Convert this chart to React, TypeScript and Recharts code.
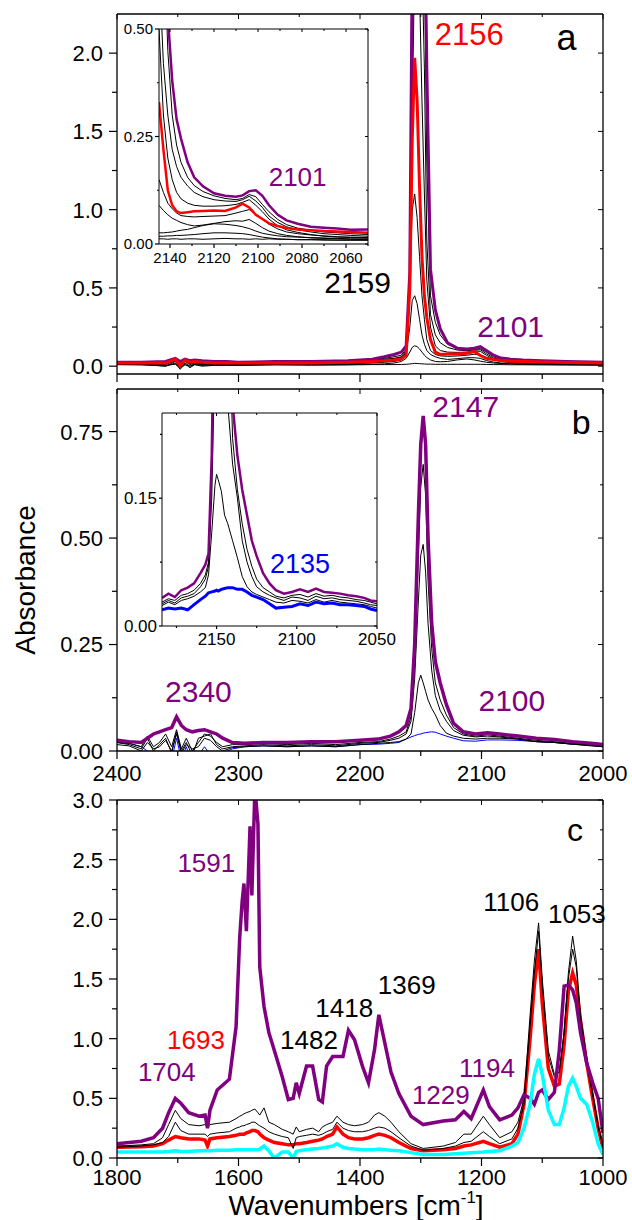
import React from "react";
import { LineChart, Line, XAxis, YAxis, CartesianGrid, ReferenceDot } from "recharts";

const FONT = "'Liberation Sans', Arial, Helvetica, sans-serif";
const PURPLE = "#800080";
const RED = "#ff0000";
const BLUE = "#0000ff";
const CYAN = "#00ffff";

// ---------- panel a (main) ----------
const wnA = [2400, 2380, 2360, 2352, 2348, 2344, 2340, 2336, 2330, 2320, 2310, 2300, 2270, 2240, 2210, 2190, 2180, 2172, 2166, 2162, 2159, 2157, 2155, 2153, 2151, 2149, 2147, 2145, 2142, 2138, 2134, 2128, 2120, 2112, 2106, 2101, 2096, 2090, 2084, 2076, 2066, 2050, 2030, 2000];
const aPurple = [0.025, 0.025, 0.03, 0.05, 0.03, 0.045, 0.035, 0.04, 0.035, 0.03, 0.03, 0.025, 0.03, 0.03, 0.035, 0.045, 0.06, 0.075, 0.09, 0.13, 0.6, 2.6, 3.8, 4.2, 4.0, 3.6, 3.0, 1.9, 0.62, 0.36, 0.24, 0.15, 0.115, 0.11, 0.115, 0.125, 0.1, 0.07, 0.052, 0.045, 0.04, 0.035, 0.03, 0.025];
const aRed = [0.02, 0.02, 0.02, 0.045, 0.0, 0.04, 0.025, 0.03, 0.025, 0.02, 0.02, 0.02, 0.02, 0.02, 0.025, 0.03, 0.035, 0.04, 0.045, 0.07, 0.5, 1.45, 1.97, 1.7, 1.15, 0.7, 0.45, 0.31, 0.17, 0.09, 0.075, 0.077, 0.078, 0.083, 0.094, 0.068, 0.05, 0.042, 0.036, 0.032, 0.03, 0.026, 0.024, 0.02];
const aK1 = [0.01, 0.008, 0.005, 0.012, -0.01, 0.008, 0.0, 0.01, 0.005, 0.008, 0.006, 0.006, 0.008, 0.006, 0.008, 0.01, 0.01, 0.01, 0.011, 0.012, 0.014, 0.016, 0.018, 0.017, 0.016, 0.015, 0.014, 0.013, 0.013, 0.012, 0.012, 0.012, 0.012, 0.012, 0.012, 0.012, 0.011, 0.01, 0.01, 0.009, 0.009, 0.008, 0.007, 0.006];
const aK2 = [0.01, 0.01, 0.0, 0.02, -0.02, 0.015, -0.01, 0.01, 0.0, 0.005, 0.005, 0.005, 0.01, 0.01, 0.01, 0.012, 0.015, 0.02, 0.03, 0.05, 0.09, 0.12, 0.13, 0.125, 0.11, 0.09, 0.07, 0.055, 0.04, 0.03, 0.028, 0.03, 0.04, 0.046, 0.04, 0.032, 0.025, 0.02, 0.017, 0.015, 0.012, 0.011, 0.01, 0.008];
const aK3 = [0.012, 0.015, 0.0, 0.03, -0.01, 0.02, 0.0, 0.015, 0.01, 0.01, 0.01, 0.01, 0.012, 0.012, 0.015, 0.02, 0.025, 0.03, 0.04, 0.08, 0.25, 0.42, 0.45, 0.4, 0.3, 0.2, 0.14, 0.1, 0.075, 0.06, 0.05, 0.043, 0.048, 0.054, 0.054, 0.05, 0.036, 0.026, 0.02, 0.016, 0.013, 0.011, 0.011, 0.01];
const aK4 = [0.015, 0.015, 0.01, 0.035, -0.005, 0.03, 0.01, 0.02, 0.015, 0.015, 0.012, 0.012, 0.015, 0.015, 0.02, 0.025, 0.03, 0.035, 0.045, 0.09, 0.55, 1.0, 1.1, 0.95, 0.7, 0.45, 0.3, 0.17, 0.1, 0.075, 0.066, 0.063, 0.065, 0.07, 0.076, 0.072, 0.055, 0.04, 0.03, 0.023, 0.019, 0.016, 0.014, 0.012];
const aK5 = [0.018, 0.02, 0.015, 0.04, 0.0, 0.035, 0.015, 0.025, 0.02, 0.02, 0.018, 0.018, 0.02, 0.02, 0.025, 0.03, 0.04, 0.045, 0.055, 0.09, 0.45, 1.6, 2.6, 2.8, 2.4, 1.7, 1.1, 0.55, 0.25, 0.13, 0.1, 0.09, 0.088, 0.09, 0.097, 0.095, 0.07, 0.045, 0.033, 0.024, 0.018, 0.015, 0.014, 0.012];
const aK6 = [0.02, 0.02, 0.02, 0.045, 0.005, 0.04, 0.02, 0.03, 0.02, 0.02, 0.02, 0.02, 0.022, 0.025, 0.028, 0.032, 0.045, 0.05, 0.06, 0.1, 0.5, 2.0, 3.2, 3.5, 3.2, 2.6, 1.9, 0.8, 0.33, 0.2, 0.15, 0.12, 0.103, 0.099, 0.103, 0.105, 0.08, 0.052, 0.04, 0.03, 0.024, 0.018, 0.016, 0.014];
const aK7 = [0.022, 0.022, 0.025, 0.05, 0.01, 0.045, 0.025, 0.035, 0.025, 0.025, 0.022, 0.022, 0.025, 0.028, 0.03, 0.035, 0.05, 0.06, 0.07, 0.11, 0.55, 2.3, 3.6, 4.0, 3.8, 3.3, 2.6, 1.3, 0.45, 0.28, 0.2, 0.14, 0.112, 0.104, 0.108, 0.112, 0.09, 0.06, 0.045, 0.034, 0.026, 0.022, 0.02, 0.016];

// ---------- panel a (inset) ----------
const wnIA = [2145, 2143, 2141, 2139, 2137, 2135, 2132, 2129, 2125, 2120, 2115, 2110, 2107, 2104, 2101, 2098, 2095, 2091, 2087, 2082, 2076, 2070, 2064, 2058, 2050];
const iaPurple = [0.9, 0.7, 0.53, 0.38, 0.29, 0.245, 0.19, 0.155, 0.134, 0.118, 0.112, 0.11, 0.113, 0.123, 0.125, 0.112, 0.09, 0.068, 0.055, 0.047, 0.04, 0.038, 0.036, 0.033, 0.034];
const iaRed = [0.33, 0.22, 0.125, 0.09, 0.076, 0.072, 0.074, 0.076, 0.077, 0.078, 0.077, 0.085, 0.094, 0.085, 0.068, 0.058, 0.048, 0.042, 0.037, 0.034, 0.032, 0.03, 0.029, 0.028, 0.026];
const iaK7 = [1.0, 0.75, 0.45, 0.3, 0.23, 0.19, 0.155, 0.136, 0.122, 0.112, 0.106, 0.103, 0.106, 0.115, 0.11, 0.092, 0.075, 0.057, 0.045, 0.037, 0.032, 0.028, 0.026, 0.024, 0.022];
const iaK6 = [0.65, 0.42, 0.3, 0.22, 0.18, 0.155, 0.135, 0.12, 0.11, 0.103, 0.1, 0.099, 0.103, 0.111, 0.1, 0.085, 0.065, 0.05, 0.04, 0.033, 0.028, 0.024, 0.022, 0.02, 0.018];
const iaK5 = [0.5, 0.3, 0.2, 0.15, 0.12, 0.105, 0.095, 0.09, 0.088, 0.088, 0.089, 0.092, 0.097, 0.103, 0.09, 0.075, 0.058, 0.042, 0.033, 0.027, 0.022, 0.018, 0.016, 0.015, 0.014];
const iaK4 = [0.15, 0.12, 0.095, 0.082, 0.072, 0.066, 0.064, 0.063, 0.064, 0.065, 0.066, 0.072, 0.076, 0.08, 0.07, 0.058, 0.046, 0.035, 0.028, 0.024, 0.021, 0.019, 0.017, 0.016, 0.015];
const iaK3 = [0.09, 0.078, 0.068, 0.06, 0.055, 0.05, 0.045, 0.042, 0.044, 0.048, 0.052, 0.054, 0.053, 0.057, 0.048, 0.038, 0.03, 0.024, 0.02, 0.017, 0.014, 0.013, 0.012, 0.011, 0.01];
const iaK2 = [0.026, 0.026, 0.027, 0.028, 0.03, 0.032, 0.034, 0.038, 0.043, 0.047, 0.046, 0.043, 0.04, 0.036, 0.03, 0.025, 0.022, 0.019, 0.017, 0.016, 0.015, 0.014, 0.013, 0.012, 0.012];
const iaK1 = [0.018, 0.018, 0.019, 0.019, 0.02, 0.02, 0.021, 0.022, 0.024, 0.026, 0.026, 0.025, 0.024, 0.022, 0.019, 0.016, 0.014, 0.012, 0.011, 0.01, 0.01, 0.009, 0.009, 0.009, 0.009];
const iaK0 = [0.012, 0.012, 0.011, 0.012, 0.012, 0.011, 0.012, 0.012, 0.011, 0.012, 0.013, 0.012, 0.012, 0.011, 0.012, 0.011, 0.012, 0.011, 0.011, 0.01, 0.01, 0.01, 0.009, 0.009, 0.009];

// ---------- panel b (main) ----------
const wnB = [2400, 2390, 2380, 2375, 2370, 2365, 2360, 2355, 2351, 2347, 2343, 2338, 2333, 2328, 2323, 2318, 2313, 2305, 2295, 2280, 2260, 2240, 2220, 2200, 2185, 2175, 2168, 2162, 2158, 2155, 2152, 2150, 2148, 2146, 2144, 2141, 2138, 2134, 2129, 2123, 2115, 2105, 2095, 2085, 2070, 2055, 2040, 2025, 2010, 2000];
const bPurple = [0.025, 0.022, 0.02, 0.03, 0.04, 0.045, 0.05, 0.055, 0.08, 0.06, 0.05, 0.045, 0.048, 0.05, 0.045, 0.04, 0.03, 0.02, 0.018, 0.02, 0.02, 0.022, 0.022, 0.025, 0.028, 0.035, 0.045, 0.06, 0.1, 0.25, 0.55, 0.72, 0.787, 0.72, 0.5, 0.3, 0.21, 0.16, 0.11, 0.065, 0.045, 0.04, 0.043, 0.04, 0.035, 0.03, 0.027, 0.022, 0.018, 0.015];
const bK3 = [0.02, 0.018, 0.01, 0.035, 0.01, 0.02, 0.04, 0.01, 0.05, 0.005, 0.03, 0.0, 0.02, 0.04, 0.035, 0.02, 0.01, 0.015, 0.015, 0.018, 0.015, 0.018, 0.015, 0.02, 0.022, 0.028, 0.035, 0.045, 0.08, 0.2, 0.45, 0.62, 0.673, 0.6, 0.4, 0.24, 0.16, 0.12, 0.085, 0.055, 0.04, 0.035, 0.038, 0.035, 0.03, 0.025, 0.022, 0.018, 0.015, 0.012];
const bK2 = [0.02, 0.015, 0.005, 0.03, 0.0, 0.015, 0.03, -0.005, 0.045, 0.0, 0.02, -0.01, 0.03, 0.035, 0.04, 0.015, 0.005, 0.01, 0.012, 0.015, 0.012, 0.015, 0.012, 0.018, 0.02, 0.025, 0.03, 0.04, 0.07, 0.17, 0.35, 0.46, 0.485, 0.42, 0.3, 0.19, 0.13, 0.095, 0.07, 0.048, 0.037, 0.033, 0.035, 0.033, 0.028, 0.022, 0.02, 0.016, 0.013, 0.01];
const bK1 = [0.015, 0.012, 0.0, 0.02, 0.005, 0.01, 0.025, 0.0, 0.04, -0.005, 0.015, 0.005, 0.01, 0.03, 0.025, 0.01, 0.0, 0.008, 0.01, 0.012, 0.01, 0.012, 0.01, 0.015, 0.018, 0.02, 0.022, 0.028, 0.04, 0.09, 0.16, 0.178, 0.16, 0.14, 0.12, 0.1, 0.085, 0.06, 0.042, 0.035, 0.03, 0.028, 0.03, 0.03, 0.028, 0.022, 0.02, 0.016, 0.012, 0.01];
const bBlue = [0.02, 0.018, 0.01, 0.0, -0.02, -0.03, -0.01, -0.02, 0.03, -0.02, 0.01, -0.03, -0.01, 0.01, -0.01, 0.0, -0.005, 0.005, 0.01, 0.012, 0.01, 0.012, 0.01, 0.015, 0.016, 0.018, 0.02, 0.028, 0.033, 0.036, 0.039, 0.04, 0.042, 0.043, 0.044, 0.045, 0.044, 0.04, 0.035, 0.03, 0.024, 0.023, 0.026, 0.026, 0.025, 0.022, 0.02, 0.016, 0.014, 0.012];

// ---------- panel b (inset) ----------
const wnIB = [2184, 2180, 2176, 2172, 2168, 2164, 2160, 2157, 2155, 2153, 2151, 2150, 2149, 2147, 2145, 2143, 2140, 2137, 2134, 2131, 2128, 2125, 2121, 2117, 2113, 2108, 2103, 2098, 2093, 2088, 2083, 2078, 2073, 2068, 2063, 2058, 2054, 2050];
const ibPurple = [0.033, 0.038, 0.034, 0.042, 0.045, 0.05, 0.062, 0.072, 0.085, 0.2, 0.45, 0.6, 0.7, 0.78, 0.7, 0.5, 0.26, 0.2, 0.16, 0.13, 0.1, 0.082, 0.062, 0.05, 0.042, 0.038, 0.04, 0.043, 0.04, 0.044, 0.04, 0.039, 0.038, 0.036, 0.035, 0.033, 0.03, 0.029];
const ibK3 = [0.028, 0.032, 0.03, 0.036, 0.038, 0.042, 0.05, 0.06, 0.075, 0.18, 0.4, 0.55, 0.62, 0.67, 0.6, 0.42, 0.22, 0.16, 0.12, 0.09, 0.07, 0.055, 0.045, 0.04, 0.035, 0.033, 0.036, 0.037, 0.034, 0.038, 0.035, 0.036, 0.034, 0.033, 0.031, 0.03, 0.028, 0.026];
const ibK2 = [0.026, 0.03, 0.027, 0.033, 0.035, 0.038, 0.046, 0.055, 0.07, 0.15, 0.32, 0.42, 0.47, 0.485, 0.42, 0.26, 0.19, 0.15, 0.1, 0.075, 0.058, 0.046, 0.04, 0.036, 0.033, 0.03, 0.034, 0.033, 0.03, 0.035, 0.032, 0.033, 0.031, 0.03, 0.029, 0.027, 0.025, 0.024];
const ibK1 = [0.024, 0.028, 0.025, 0.03, 0.032, 0.035, 0.04, 0.045, 0.06, 0.11, 0.165, 0.178, 0.172, 0.158, 0.13, 0.12, 0.1, 0.08, 0.058, 0.046, 0.04, 0.037, 0.034, 0.031, 0.028, 0.027, 0.03, 0.029, 0.027, 0.031, 0.028, 0.03, 0.028, 0.027, 0.026, 0.025, 0.023, 0.021];
const ibBlue = [0.019, 0.021, 0.02, 0.021, 0.019, 0.025, 0.031, 0.035, 0.039, 0.04, 0.041, 0.042, 0.041, 0.043, 0.044, 0.045, 0.045, 0.043, 0.043, 0.04, 0.036, 0.034, 0.031, 0.026, 0.021, 0.022, 0.023, 0.026, 0.024, 0.028, 0.026, 0.027, 0.025, 0.025, 0.024, 0.023, 0.02, 0.018];

// ---------- panel c ----------
const wnC = [1800, 1760, 1740, 1725, 1715, 1704, 1695, 1682, 1665, 1655, 1651, 1647, 1635, 1615, 1604, 1598, 1594, 1591, 1587, 1581, 1578, 1573, 1568, 1565, 1558, 1550, 1541, 1528, 1518, 1510, 1505, 1500, 1488, 1478, 1468, 1462, 1455, 1445, 1438, 1428, 1419, 1409, 1396, 1386, 1376, 1369, 1359, 1349, 1336, 1316, 1296, 1263, 1243, 1229, 1217, 1197, 1187, 1170, 1150, 1140, 1130, 1120, 1113, 1106, 1100, 1090, 1080, 1072, 1064, 1057, 1050, 1044, 1037, 1027, 1017, 1008, 1000];
const cPurple = [0.12, 0.14, 0.17, 0.25, 0.38, 0.5, 0.46, 0.38, 0.35, 0.36, 0.25, 0.4, 0.57, 0.66, 1.1, 1.85, 2.15, 2.3, 1.9, 2.78, 2.2, 3.1, 2.8, 1.6, 1.27, 1.05, 0.9, 0.68, 0.49, 0.5, 0.63, 0.54, 0.77, 0.77, 0.49, 0.47, 0.77, 0.85, 0.85, 0.85, 1.07, 0.99, 0.77, 0.63, 0.91, 1.2, 0.96, 0.72, 0.54, 0.35, 0.28, 0.31, 0.32, 0.39, 0.33, 0.57, 0.43, 0.32, 0.36, 0.42, 0.53, 0.5, 0.45, 0.55, 0.57, 0.49, 0.55, 0.9, 1.44, 1.45, 1.41, 1.3, 1.05, 0.8, 0.63, 0.5, 0.21];
const cRed = [0.09, 0.095, 0.1, 0.12, 0.15, 0.18, 0.17, 0.16, 0.16, 0.15, 0.1, 0.16, 0.17, 0.18, 0.19, 0.2, 0.2, 0.2, 0.21, 0.22, 0.23, 0.23, 0.22, 0.2, 0.17, 0.15, 0.13, 0.12, 0.11, 0.11, 0.12, 0.12, 0.13, 0.14, 0.15, 0.16, 0.18, 0.2, 0.26, 0.2, 0.17, 0.16, 0.16, 0.17, 0.19, 0.2, 0.19, 0.17, 0.13, 0.08, 0.06, 0.07, 0.08, 0.1, 0.11, 0.14, 0.12, 0.09, 0.12, 0.2, 0.45, 1.0, 1.45, 1.75, 1.3, 0.75, 0.6, 0.62, 0.95, 1.4, 1.55, 1.45, 1.15, 0.8, 0.5, 0.25, 0.08];
const cK1 = [0.1, 0.11, 0.12, 0.17, 0.28, 0.4, 0.33, 0.28, 0.27, 0.28, 0.26, 0.28, 0.29, 0.3, 0.33, 0.35, 0.36, 0.37, 0.38, 0.39, 0.4, 0.41, 0.38, 0.36, 0.42, 0.3, 0.28, 0.24, 0.22, 0.2, 0.26, 0.22, 0.24, 0.25, 0.22, 0.26, 0.28, 0.3, 0.35, 0.3, 0.28, 0.27, 0.28, 0.3, 0.36, 0.38, 0.35, 0.3, 0.22, 0.12, 0.08, 0.1, 0.13, 0.2, 0.2, 0.35, 0.28, 0.17, 0.22, 0.3, 0.5, 1.2, 1.65, 1.97, 1.5, 0.9, 0.7, 0.72, 1.05, 1.55, 1.86, 1.65, 1.2, 0.85, 0.55, 0.28, 0.1];
const cK2 = [0.09, 0.1, 0.11, 0.13, 0.18, 0.3, 0.23, 0.2, 0.2, 0.2, 0.18, 0.2, 0.21, 0.22, 0.25, 0.26, 0.27, 0.27, 0.28, 0.29, 0.3, 0.3, 0.28, 0.27, 0.25, 0.22, 0.2, 0.18, 0.17, 0.08, 0.17, 0.18, 0.19, 0.2, 0.19, 0.2, 0.22, 0.24, 0.3, 0.25, 0.23, 0.22, 0.22, 0.23, 0.25, 0.26, 0.25, 0.22, 0.17, 0.1, 0.065, 0.08, 0.1, 0.13, 0.14, 0.22, 0.18, 0.12, 0.16, 0.25, 0.45, 1.1, 1.55, 1.9, 1.45, 0.85, 0.68, 0.72, 1.05, 1.5, 1.75, 1.6, 1.15, 0.8, 0.52, 0.26, 0.1];
const cCyan = [0.05, 0.05, 0.05, 0.05, 0.055, 0.06, 0.055, 0.055, 0.06, 0.06, 0.06, 0.06, 0.065, 0.065, 0.07, 0.07, 0.07, 0.07, 0.07, 0.07, 0.07, 0.07, 0.07, 0.075, 0.1, 0.06, 0.0, 0.05, 0.05, 0.0, 0.055, 0.06, 0.07, 0.075, 0.08, 0.085, 0.09, 0.1, 0.12, 0.09, 0.08, 0.075, 0.07, 0.07, 0.07, 0.075, 0.07, 0.065, 0.06, 0.045, 0.03, 0.03, 0.035, 0.04, 0.045, 0.05, 0.055, 0.06, 0.1, 0.13, 0.25, 0.45, 0.7, 0.83, 0.7, 0.4, 0.28, 0.28, 0.42, 0.6, 0.67, 0.6, 0.5, 0.45, 0.3, 0.12, 0.03];

// ---------- ticks ----------
const ticksAB = [2400, 2350, 2300, 2250, 2200, 2150, 2100, 2050, 2000];
const majorsAB = [2400, 2300, 2200, 2100, 2000];
const ticksC = [1800, 1700, 1600, 1500, 1400, 1300, 1200, 1100, 1000];
const majorsC = [1800, 1600, 1400, 1200, 1000];
const yTicksA = [0, 0.25, 0.5, 0.75, 1, 1.25, 1.5, 1.75, 2];
const yMajorsA = [0, 0.5, 1, 1.5, 2];
const yTicksB = [0, 0.125, 0.25, 0.375, 0.5, 0.625, 0.75];
const yMajorsB = [0, 0.25, 0.5, 0.75];
const yTicksC = [0, 0.25, 0.5, 0.75, 1, 1.25, 1.5, 1.75, 2, 2.25, 2.5, 2.75, 3];
const yMajorsC = [0, 0.5, 1, 1.5, 2, 2.5, 3];
const xTicksIA = [2140, 2130, 2120, 2110, 2100, 2090, 2080, 2070, 2060, 2050];
const xMajorsIA = [2140, 2120, 2100, 2080, 2060];
const yTicksIA = [0, 0.125, 0.25, 0.375, 0.5];
const yMajorsIA = [0, 0.25, 0.5];
const xTicksIB = [2175, 2150, 2125, 2100, 2075, 2050];
const xMajorsIB = [2150, 2100, 2050];
const yTicksIB = [0, 0.075, 0.15, 0.225];
const yMajorsIB = [0, 0.15];

// ---------- peak labels ----------
type Note = { text: string; wn: number; abs: number; color: string; size: number };
const notesA: Note[] = [
  { text: "2156", wn: 2110, abs: 2.12, color: RED, size: 31 },
  { text: "a", wn: 2030, abs: 2.1, color: "#000", size: 36 },
  { text: "2159", wn: 2202, abs: 0.535, color: "#000", size: 30 },
  { text: "2101", wn: 2076, abs: 0.255, color: PURPLE, size: 30 },
];
const notesIA: Note[] = [{ text: "2101", wn: 2082, abs: 0.156, color: PURPLE, size: 26 }];
const notesB: Note[] = [
  { text: "2147", wn: 2113, abs: 0.81, color: PURPLE, size: 30 },
  { text: "b", wn: 2018, abs: 0.772, color: "#000", size: 34 },
  { text: "2340", wn: 2333, abs: 0.139, color: PURPLE, size: 30 },
  { text: "2100", wn: 2075, abs: 0.12, color: PURPLE, size: 30 },
];
const notesIB: Note[] = [{ text: "2135", wn: 2098, abs: 0.074, color: BLUE, size: 27 }];
const notesC: Note[] = [
  { text: "c", wn: 1046, abs: 2.75, color: "#000", size: 32 },
  { text: "1591", wn: 1653, abs: 2.47, color: PURPLE, size: 26 },
  { text: "1106", wn: 1151, abs: 2.15, color: "#000", size: 26 },
  { text: "1053", wn: 1043, abs: 2.05, color: "#000", size: 26 },
  { text: "1369", wn: 1323, abs: 1.45, color: "#000", size: 26 },
  { text: "1418", wn: 1426, abs: 1.26, color: "#000", size: 26 },
  { text: "1482", wn: 1484, abs: 0.99, color: "#000", size: 26 },
  { text: "1693", wn: 1670, abs: 0.99, color: RED, size: 26 },
  { text: "1704", wn: 1718, abs: 0.72, color: PURPLE, size: 26 },
  { text: "1229", wn: 1267, abs: 0.53, color: PURPLE, size: 26 },
  { text: "1194", wn: 1191, abs: 0.76, color: PURPLE, size: 26 },
];

const rows = (wn: number[], series: Record<string, number[]>) =>
  wn.map((w, i) => {
    const r: Record<string, number> = { wn: w };
    Object.keys(series).forEach((k) => (r[k] = series[k][i]));
    return r;
  });

const dataA = rows(wnA, { k1: aK1, k2: aK2, k3: aK3, k4: aK4, k5: aK5, k6: aK6, k7: aK7, purple: aPurple, red: aRed });
const dataIA = rows(wnIA, { k0: iaK0, k1: iaK1, k2: iaK2, k3: iaK3, k4: iaK4, k5: iaK5, k6: iaK6, k7: iaK7, purple: iaPurple, red: iaRed });
const dataB = rows(wnB, { blue: bBlue, k1: bK1, k2: bK2, k3: bK3, purple: bPurple });
const dataIB = rows(wnIB, { k1: ibK1, k2: ibK2, k3: ibK3, purple: ibPurple, blue: ibBlue });
const dataC = rows(wnC, { red: cRed, k1: cK1, k2: cK2, purple: cPurple, cyan: cCyan });

type Side = "left" | "right" | "top" | "bottom";
type TickSpec = { side: Side; majors: number[]; len: number; minLen: number; font?: number; gap?: number; digits?: number };

const tickFn = (s: TickSpec) => (p: any) => {
  const x = Number(p.x);
  const y = Number(p.y);
  const v = Number(p.payload?.value);
  const major = s.majors.some((m) => Math.abs(m - v) < 1e-6);
  const l = major ? s.len : s.minLen;
  const text = major && s.font ? (s.digits !== undefined ? v.toFixed(s.digits) : String(v)) : "";
  const gap = s.gap ?? 0;
  if (s.side === "left") {
    return (
      <g>
        <line x1={x} y1={y} x2={x - l} y2={y} stroke="#000" strokeWidth={1.2} />
        {text && (
          <text x={x - gap} y={y} dy="0.36em" textAnchor="end" fontSize={s.font} fill="#000">
            {text}
          </text>
        )}
      </g>
    );
  }
  if (s.side === "bottom") {
    return (
      <g>
        <line x1={x} y1={y} x2={x} y2={y + l} stroke="#000" strokeWidth={1.2} />
        {text && (
          <text x={x} y={y + gap} textAnchor="middle" fontSize={s.font} fill="#000">
            {text}
          </text>
        )}
      </g>
    );
  }
  if (s.side === "right") return <line x1={x} y1={y} x2={x - l} y2={y} stroke="#000" strokeWidth={1} />;
  return <line x1={x} y1={y} x2={x} y2={y + l} stroke="#000" strokeWidth={1} />;
};

type Frame = {
  xDomain: [number, number];
  yDomain: [number, number];
  xTicks: number[];
  xMajors: number[];
  yTicks: number[];
  yMajors: number[];
  yWidth: number;
  xHeight: number;
  font?: number;
  xFont?: number;
  xGap: number;
  yGap: number;
  yDigits: number;
  outLen: number;
  outMin: number;
  inLen: number;
  inMin: number;
  frameWidth: number;
};

// the four axes that make the boxed frame with outward and mirrored inward ticks
const frameAxes = (f: Frame) => [
  <XAxis
    key="xb"
    type="number"
    dataKey="wn"
    domain={f.xDomain}
    reversed
    allowDataOverflow
    ticks={f.xTicks}
    interval={0}
    height={f.xHeight}
    tickLine={false}
    tickSize={0}
    tickMargin={0}
    axisLine={{ stroke: "#000", strokeWidth: f.frameWidth }}
    tick={tickFn({ side: "bottom", majors: f.xMajors, len: f.outLen, minLen: f.outMin, font: f.xFont, gap: f.xGap })}
  />,
  <XAxis
    key="xt"
    xAxisId="top"
    orientation="top"
    type="number"
    dataKey="wn"
    domain={f.xDomain}
    reversed
    allowDataOverflow
    ticks={f.xTicks}
    interval={0}
    height={1}
    tickLine={false}
    tickSize={0}
    tickMargin={0}
    axisLine={{ stroke: "#000", strokeWidth: f.frameWidth }}
    tick={tickFn({ side: "top", majors: f.xMajors, len: f.inLen, minLen: f.inMin })}
  />,
  <YAxis
    key="yl"
    type="number"
    domain={f.yDomain}
    allowDataOverflow
    ticks={f.yTicks}
    interval={0}
    width={f.yWidth}
    tickLine={false}
    tickSize={0}
    tickMargin={0}
    axisLine={{ stroke: "#000", strokeWidth: f.frameWidth }}
    tick={tickFn({ side: "left", majors: f.yMajors, len: f.outLen, minLen: f.outMin, font: f.font, gap: f.yGap, digits: f.yDigits })}
  />,
  <YAxis
    key="yr"
    yAxisId="right"
    orientation="right"
    type="number"
    domain={f.yDomain}
    allowDataOverflow
    ticks={f.yTicks}
    interval={0}
    width={1}
    tickLine={false}
    tickSize={0}
    tickMargin={0}
    axisLine={{ stroke: "#000", strokeWidth: f.frameWidth }}
    tick={tickFn({ side: "right", majors: f.yMajors, len: f.inLen, minLen: f.inMin })}
  />,
];

const notes = (list: Note[]) =>
  list.map((n) => (
    <ReferenceDot
      key={n.text + n.wn}
      x={n.wn}
      y={n.abs}
      r={0}
      fill="none"
      stroke="none"
      ifOverflow="visible"
      label={{ value: n.text, position: "center", fill: n.color, fontSize: n.size }}
    />
  ));

const line = (key: string, color: string, w: number) => (
  <Line
    key={key}
    dataKey={key}
    type="linear"
    stroke={color}
    strokeWidth={w}
    dot={false}
    activeDot={false}
    isAnimationActive={false}
  />
);

const box = (left: number, top: number, width: number, height: number): React.CSSProperties => ({
  position: "absolute",
  left,
  top,
  width,
  height,
});

export default function App() {
  return (
    <div style={{ position: "absolute", left: 0, top: 0, width: 632, height: 1220, background: "#fff", fontFamily: FONT }}>
      <style>{"svg.recharts-surface { overflow: visible; }"}</style>
      {/* panel a */}
      <div style={box(0, 0, 632, 385)}>
        <LineChart width={632} height={385} data={dataA} margin={{ top: 13, right: 28, bottom: 0, left: 0 }}>
          {frameAxes({
            xDomain: [2000, 2400], yDomain: [-0.05, 2.25], xTicks: ticksAB, xMajors: majorsAB,
            yTicks: yTicksA, yMajors: yMajorsA, yWidth: 117, xHeight: 11, font: 22, xGap: 30, yGap: 14,
            yDigits: 1, outLen: 8, outMin: 5, inLen: 5, inMin: 3, frameWidth: 1.3,
          })}
          {["k1", "k2", "k3", "k4", "k5", "k6", "k7"].map((k) => line(k, "#000", 1))}
          {line("purple", PURPLE, 3)}
          {line("red", RED, 3)}
          {notes(notesA)}
        </LineChart>
      </div>

      {/* panel b */}
      <div style={box(0, 385, 632, 402)}>
        <LineChart width={632} height={402} data={dataB} margin={{ top: 3, right: 28, bottom: 0, left: 0 }}>
          {frameAxes({
            xDomain: [2000, 2400], yDomain: [0, 0.85], xTicks: ticksAB, xMajors: majorsAB,
            yTicks: yTicksB, yMajors: yMajorsB, yWidth: 117, xHeight: 36, font: 22, xFont: 22, xGap: 30, yGap: 14,
            yDigits: 2, outLen: 8, outMin: 5, inLen: 5, inMin: 3, frameWidth: 1.3,
          })}
          {line("blue", BLUE, 1)}
          {["k1", "k2", "k3"].map((k) => line(k, "#000", 1))}
          {line("purple", PURPLE, 3.5)}
          {notes(notesB)}
        </LineChart>
      </div>

      {/* panel c */}
      <div style={box(0, 787, 632, 433)}>
        <LineChart width={632} height={433} data={dataC} margin={{ top: 12, right: 28, bottom: 0, left: 0 }}>
          {frameAxes({
            xDomain: [1000, 1800], yDomain: [0, 3], xTicks: ticksC, xMajors: majorsC,
            yTicks: yTicksC, yMajors: yMajorsC, yWidth: 117, xHeight: 62, font: 22, xFont: 22, xGap: 27, yGap: 14,
            yDigits: 1, outLen: 8, outMin: 5, inLen: 5, inMin: 3, frameWidth: 1.3,
          })}
          {line("red", RED, 3.5)}
          {line("k1", "#000", 1)}
          {line("k2", "#000", 1)}
          {line("purple", PURPLE, 3.5)}
          {line("cyan", CYAN, 3.5)}
          {notes(notesC)}
        </LineChart>
      </div>

      {/* inset a */}
      <div style={box(110, 18, 270, 255)}>
        <LineChart width={270} height={255} data={dataIA} margin={{ top: 10, right: 11, bottom: 0, left: 0 }}>
          <CartesianGrid horizontal={false} vertical={false} fill="#fff" />
          {frameAxes({
            xDomain: [2050, 2145], yDomain: [0, 0.5], xTicks: xTicksIA, xMajors: xMajorsIA,
            yTicks: yTicksIA, yMajors: yMajorsIA, yWidth: 49, xHeight: 29, font: 15, xFont: 15, xGap: 19, yGap: 6,
            yDigits: 2, outLen: 4, outMin: 2, inLen: 3, inMin: 2, frameWidth: 1,
          })}
          {["k0", "k1", "k2", "k3", "k4", "k5", "k6", "k7"].map((k) => line(k, "#000", 1))}
          {line("purple", PURPLE, 2.5)}
          {line("red", RED, 2.5)}
          {notes(notesIA)}
        </LineChart>
      </div>

      {/* inset b */}
      <div style={box(110, 403, 292, 250)}>
        <LineChart width={292} height={250} data={dataIB} margin={{ top: 9, right: 24, bottom: 0, left: 0 }}>
          <CartesianGrid horizontal={false} vertical={false} fill="#fff" />
          {frameAxes({
            xDomain: [2050, 2184], yDomain: [0, 0.25], xTicks: xTicksIB, xMajors: xMajorsIB,
            yTicks: yTicksIB, yMajors: yMajorsIB, yWidth: 52, xHeight: 27, font: 17, xFont: 17, xGap: 19, yGap: 5,
            yDigits: 2, outLen: 3, outMin: 2, inLen: 3, inMin: 2, frameWidth: 1,
          })}
          {["k1", "k2", "k3"].map((k) => line(k, "#000", 1))}
          {line("purple", PURPLE, 2.5)}
          {line("blue", BLUE, 3)}
          {notes(notesIB)}
        </LineChart>
      </div>

      {/* shared axis titles */}
      <div
        style={{
          position: "absolute", left: 26, top: 580, transform: "translate(-50%, -50%) rotate(-90deg)",
          fontSize: 28, whiteSpace: "nowrap", lineHeight: 1, color: "#000",
        }}
      >
        Absorbance
      </div>
      <div
        style={{
          position: "absolute", left: 356, top: 1206, transform: "translate(-50%, -50%)",
          fontSize: 28, whiteSpace: "nowrap", lineHeight: 1, color: "#000",
        }}
      >
        Wavenumbers [cm<sup style={{ fontSize: "0.6em", verticalAlign: "0.7em", lineHeight: 0 }}>-1</sup>]
      </div>
    </div>
  );
}
